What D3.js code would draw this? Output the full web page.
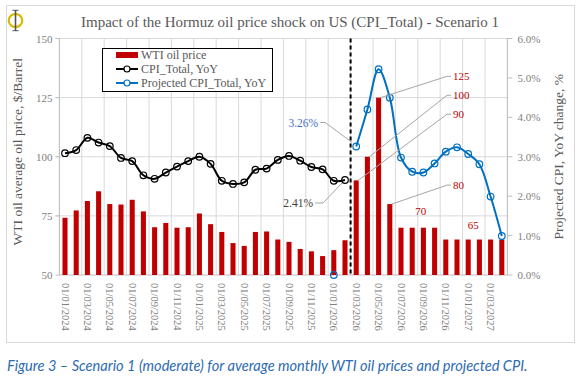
<!DOCTYPE html>
<html><head><meta charset="utf-8">
<script src="https://cdn.jsdelivr.net/npm/d3@7"></script>
<style>body{margin:0;background:#fff}svg{display:block}</style>
</head><body>
<svg id="c" width="578" height="382"></svg>
<script>
const dates = ["01/01/2024","01/02/2024","01/03/2024","01/04/2024","01/05/2024","01/06/2024","01/07/2024","01/08/2024","01/09/2024","01/10/2024","01/11/2024","01/12/2024",
"01/01/2025","01/02/2025","01/03/2025","01/04/2025","01/05/2025","01/06/2025","01/07/2025","01/08/2025","01/09/2025","01/10/2025","01/11/2025","01/12/2025",
"01/01/2026","01/02/2026","01/03/2026","01/04/2026","01/05/2026","01/06/2026","01/07/2026","01/08/2026","01/09/2026","01/10/2026","01/11/2026","01/12/2026",
"01/01/2027","01/02/2027","01/03/2027","01/04/2027"];
const wti = [74.2,77.3,81.3,85.4,80.0,79.8,81.8,76.9,70.2,72.0,70.0,70.2,
76.0,71.5,68.2,63.5,62.3,68.2,68.4,65.0,64.0,61.0,60.0,58.0,
60.5,64.7,90,100,125,80,70,70,70,70,65,65,65,65,65,65];
const cpi = [3.09,3.17,3.48,3.36,3.27,2.97,2.89,2.53,2.44,2.60,2.75,2.89,
3.00,2.82,2.39,2.31,2.35,2.67,2.70,2.92,3.02,2.90,2.74,2.68,2.39,2.41];
const cpiProj = [null,null,null,null,null,null,null,null,null,null,null,null,
null,null,null,null,null,null,null,null,null,null,null,null,
0,null,3.26,4.20,5.22,4.50,2.98,2.62,2.60,2.83,3.13,3.24,3.07,2.81,1.99,0.99];
const leftTicks = [50,75,100,125,150];
const rightTicks = [0,0.01,0.02,0.03,0.04,0.05,0.06];
const wtiLabels = [{i:28,t:"125"},{i:27,t:"100"},{i:26,t:"90"},{i:29,t:"80"}];
const title = "Impact of the Hormuz oil price shock on US (CPI_Total) - Scenario 1";
const caption = "Figure 3 \u2013 Scenario 1 (moderate) for average monthly WTI oil prices and projected CPI.";
const legendItems = ["WTI oil price","CPI_Total, YoY","Projected CPI_Total, YoY"];

const svg = d3.select("#c");
const serif = "Liberation Serif, DejaVu Serif, serif";
const L = 59.4, R = 507.4, T = 38.5, B = 275;
const idx = d3.range(dates.length);
const x = d3.scaleBand().domain(idx).range([L,R]).paddingInner(0.55).paddingOuter(0.275);
const step = x.step();
const cx = i => x(i) + x.bandwidth()/2;
const xs = i => L + i*step;
const yL = d3.scaleLinear().domain([50,150]).range([B,T]);
const yR = d3.scaleLinear().domain([0,0.06]).range([B,T]);

svg.append("rect").attr("x",6.5).attr("y",5.5).attr("width",568).attr("height",337).attr("fill","#fff").attr("stroke","#d9d9d9");

// logo
const lg = svg.append("g");
lg.append("ellipse").attr("cx",15.5).attr("cy",20.5).attr("rx",6.8).attr("ry",6.5).attr("fill","none").attr("stroke","#d8b900").attr("stroke-width",2.2);
lg.append("line").attr("x1",15.5).attr("x2",15.5).attr("y1",10).attr("y2",31).attr("stroke","#555").attr("stroke-width",1.6);
lg.append("line").attr("x1",12.5).attr("x2",18.5).attr("y1",10.3).attr("y2",10.3).attr("stroke","#555").attr("stroke-width",1);
lg.append("line").attr("x1",12.5).attr("x2",18.5).attr("y1",30.7).attr("y2",30.7).attr("stroke","#555").attr("stroke-width",1);

svg.append("text").attr("x",290).attr("y",27).attr("text-anchor","middle").attr("font-family",serif).attr("font-size",15).attr("fill","#595959").text(title);

const g = svg.append("g");
g.selectAll(".hg").data(leftTicks.filter(v=>v>50)).join("line").attr("x1",L-4).attr("x2",R).attr("y1",d=>yL(d)).attr("y2",d=>yL(d)).attr("stroke","#d9d9d9");
g.selectAll(".vg").data(d3.range(0,dates.length+1,2)).join("line").attr("x1",d=>xs(d)).attr("x2",d=>xs(d)).attr("y1",T).attr("y2",B).attr("stroke","#d9d9d9");
g.append("line").attr("x1",L).attr("x2",L).attr("y1",T).attr("y2",B).attr("stroke","#bfbfbf");
g.append("line").attr("x1",R).attr("x2",R).attr("y1",T).attr("y2",B).attr("stroke","#bfbfbf");
g.append("line").attr("x1",L).attr("x2",R).attr("y1",B).attr("y2",B).attr("stroke","#bfbfbf");
g.selectAll(".lt").data(leftTicks).join("line").attr("x1",L-4).attr("x2",L).attr("y1",d=>yL(d)).attr("y2",d=>yL(d)).attr("stroke","#bfbfbf");
g.selectAll(".rt").data(rightTicks).join("line").attr("x1",R).attr("x2",R+5).attr("y1",d=>yR(d)).attr("y2",d=>yR(d)).attr("stroke","#bfbfbf");

svg.selectAll(".ltl").data(leftTicks).join("text").attr("x",L-7).attr("y",d=>yL(d)+4).attr("text-anchor","end")
  .attr("font-family",serif).attr("font-size",11).attr("fill","#808080").text(d=>d);
svg.selectAll(".rtl").data(rightTicks).join("text").attr("x",R+10).attr("y",d=>yR(d)+4)
  .attr("font-family",serif).attr("font-size",11).attr("fill","#808080").text(d=>d3.format(".1%")(d));
svg.selectAll(".xtl").data(idx.filter(i=>i%2===0)).join("text")
  .attr("transform",i=>`translate(${cx(i)-3.5},${B+8}) rotate(90)`)
  .attr("font-family",serif).attr("font-size",10.5).attr("fill","#808080").text(i=>dates[i]);

svg.append("text").attr("transform",`translate(22,${(T+B)/2-5}) rotate(-90)`).attr("text-anchor","middle")
  .attr("font-family",serif).attr("font-size",13.5).attr("fill","#595959").text("WTI oil average oil price, $/Barrel");
svg.append("text").attr("transform",`translate(563,${(T+B)/2}) rotate(-90)`).attr("text-anchor","middle")
  .attr("font-family",serif).attr("font-size",13.5).attr("fill","#595959").text("Projected CPI, YoY change, %");

svg.selectAll(".bar").data(wti).join("rect").attr("x",(d,i)=>x(i)).attr("width",x.bandwidth())
  .attr("y",d=>yL(d)).attr("height",d=>B-yL(d)).attr("fill","#c00000");

svg.append("line").attr("x1",xs(26)).attr("x2",xs(26)).attr("y1",T).attr("y2",B).attr("stroke","#000").attr("stroke-width",2).attr("stroke-dasharray","4,3");

const curve = d3.curveCatmullRom.alpha(0.5);
const line = d3.line().defined(d=>d.v!=null).x(d=>cx(d.i)).y(d=>yR(d.v/100)).curve(curve);
const cpiPts = cpi.map((v,i)=>({i,v}));
const projPts = cpiProj.map((v,i)=>({i,v}));
svg.append("path").attr("d",line(cpiPts)).attr("fill","none").attr("stroke","#000").attr("stroke-width",2);
svg.append("path").attr("d",line(projPts.filter(d=>d.i>=26))).attr("fill","none").attr("stroke","#0070c0").attr("stroke-width",2);
svg.selectAll(".cm").data(cpiPts).join("circle").attr("cx",d=>cx(d.i)).attr("cy",d=>yR(d.v/100)).attr("r",3.3)
  .attr("fill","none").attr("stroke","#000").attr("stroke-width",1.2);
svg.selectAll(".pm").data(projPts.filter(d=>d.v!=null)).join("circle").attr("cx",d=>cx(d.i)).attr("cy",d=>yR(d.v/100)).attr("r",3.3)
  .attr("fill","none").attr("stroke","#0070c0").attr("stroke-width",1.2);

const lx = 447;
wtiLabels.forEach(a=>{
  const ty = a.t==="125"?yL(134):a.t==="100"?yL(126):a.t==="90"?yL(118):yL(88);
  svg.append("polyline").attr("points",`${cx(a.i)+2},${yL(wti[a.i])} ${lx},${ty} ${lx+4},${ty}`).attr("fill","none").attr("stroke","#a6a6a6");
  svg.append("text").attr("x",lx+6).attr("y",ty+4).attr("font-family",serif).attr("font-size",11).attr("fill","#c00000").text(a.t);
});
svg.append("text").attr("x",(cx(30)+cx(32))/2+3).attr("y",yL(wti[30])-13).attr("font-family",serif).attr("font-size",11).attr("fill","#c00000").text("70");
svg.append("text").attr("x",(cx(36)+cx(37))/2-6).attr("y",yL(wti[36])-11).attr("font-family",serif).attr("font-size",11).attr("fill","#c00000").text("65");

const p326 = {x:cx(26), y:yR(cpiProj[26]/100)};
svg.append("polyline").attr("points",`${p326.x-4},${p326.y-4} ${p326.x-31},${p326.y-24} ${p326.x-36},${p326.y-24}`).attr("fill","none").attr("stroke","#a6a6a6");
svg.append("text").attr("x",p326.x-38).attr("y",p326.y-20).attr("text-anchor","end").attr("font-family",serif).attr("font-size",11.5).attr("fill","#4472c4").text("3.26%");
const p241 = {x:cx(25), y:yR(cpi[25]/100)};
svg.append("polyline").attr("points",`${p241.x-3},${p241.y+3} ${p241.x-22},${p241.y+23} ${p241.x-30},${p241.y+23}`).attr("fill","none").attr("stroke","#a6a6a6");
svg.append("text").attr("x",p241.x-32).attr("y",p241.y+27).attr("text-anchor","end").attr("font-family",serif).attr("font-size",11.5).attr("fill","#404040").text("2.41%");

const lgd = svg.append("g");
lgd.append("rect").attr("x",102.5).attr("y",48.5).attr("width",170).attr("height",43).attr("fill","#fff").attr("stroke","#000");
const ly = [55,69,83];
lgd.append("rect").attr("x",116).attr("y",ly[0]-3).attr("width",22).attr("height",6).attr("fill","#c00000");
[["#000",1],["#0070c0",2]].forEach(([c,k])=>{
  lgd.append("line").attr("x1",116).attr("x2",138).attr("y1",ly[k]).attr("y2",ly[k]).attr("stroke",c).attr("stroke-width",2);
  lgd.append("circle").attr("cx",127).attr("cy",ly[k]).attr("r",3).attr("fill","#fff").attr("stroke",c).attr("stroke-width",1.2);
});
lgd.selectAll(".lt").data(legendItems).join("text").attr("x",141).attr("y",(d,i)=>ly[i]+4)
  .attr("font-family",serif).attr("font-size",12).attr("fill","#595959").text(d=>d);

svg.append("text").attr("x",7).attr("y",371).attr("font-family","Lato, Open Sans, sans-serif").attr("font-style","italic")
  .attr("font-size",14.6).attr("fill","#2e6bb0").text(caption);
</script>
</body></html>
